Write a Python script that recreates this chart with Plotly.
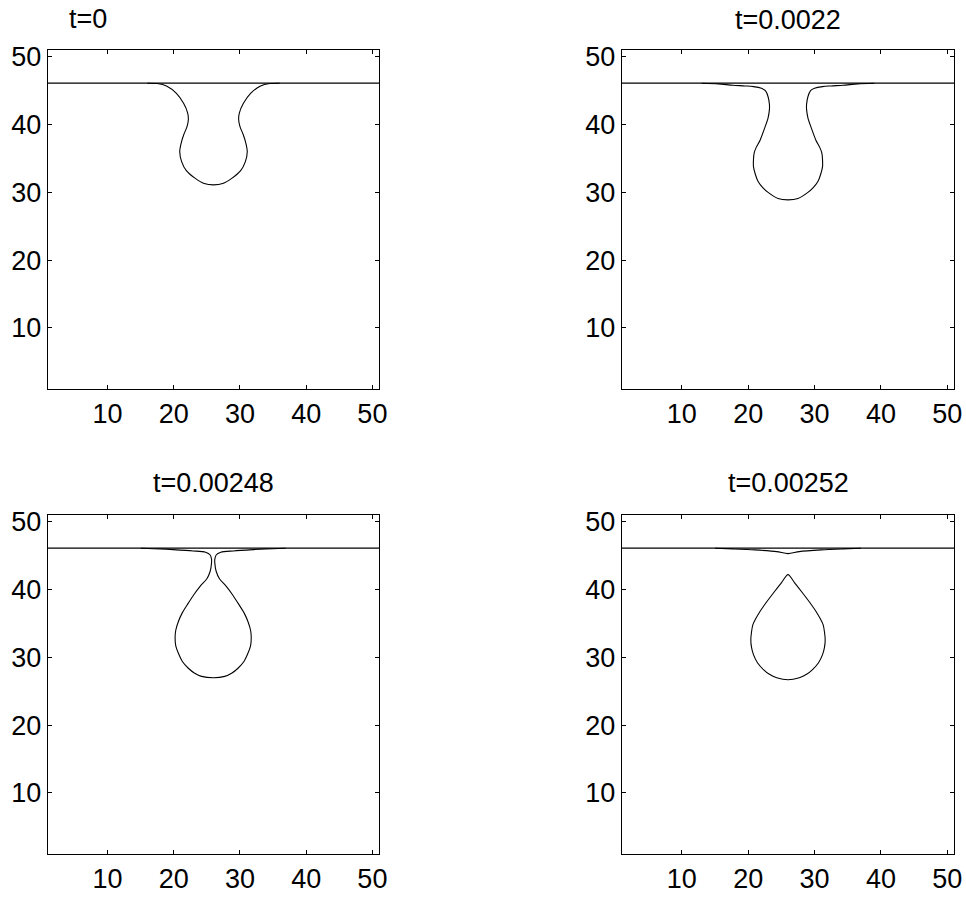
import plotly.graph_objects as go

# ---------------- data ----------------
titles = ["t=0", "t=0.0022", "t=0.00248", "t=0.00252"]
tick_vals = [10, 20, 30, 40, 50]
axis_range = [1, 51]

# flat free surface (level of the undisturbed interface)
surface_x = [1, 51]
surface_y = [46.1, 46.1]

# t=0 contour
c1_x = [16.0, 17.5, 18.9, 20.4, 21.5, 22.1, 22.2, 22.0, 21.5, 21.1, 20.9, 21.2, 21.9, 23.2, 24.6, 26.0,
        27.4, 28.8, 30.1, 30.8, 31.1, 30.9, 30.5, 30.0, 29.8, 29.9, 30.5, 31.6, 33.1, 34.5, 36.0]
c1_y = [46.1, 46.05, 45.7, 44.6, 43.1, 41.7, 40.7, 39.7, 38.5, 37.2, 36.0, 34.5, 33.2, 32.1, 31.3, 31.1,
        31.3, 32.1, 33.2, 34.5, 36.0, 37.2, 38.5, 39.7, 40.7, 41.7, 43.1, 44.6, 45.7, 46.05, 46.1]

# t=0.0022 contour
c2_x = [13.0, 15.5, 17.7, 19.5, 20.8, 22.0, 22.6, 23.0, 23.2, 23.2, 23.0, 22.6, 21.8, 21.2, 20.9, 20.8,
        20.8, 21.1, 21.5, 22.2, 23.0, 24.5, 26.0,
        27.5, 29.0, 29.8, 30.5, 30.9, 31.2, 31.2, 31.1, 30.8, 30.2, 29.4, 29.0, 28.8, 28.8, 29.0, 29.4,
        30.0, 31.2, 32.5, 34.3, 36.5, 39.0]
c2_y = [46.1, 46.0, 45.8, 45.7, 45.6, 45.35, 45.0, 44.1, 43.0, 42.2, 41.0, 39.8, 37.7, 36.6, 35.8, 34.8,
        33.8, 32.6, 31.6, 30.7, 30.0, 29.1, 28.9,
        29.1, 30.0, 30.7, 31.6, 32.6, 33.8, 34.8, 35.8, 36.6, 37.7, 39.8, 41.0, 42.2, 43.0, 44.1, 45.0,
        45.35, 45.6, 45.7, 45.8, 46.0, 46.1]

# t=0.00248 contour
c3_x = [15.0, 18.0, 19.9, 22.9, 24.8, 25.5, 25.7, 25.7, 25.5, 25.0, 24.0, 23.0, 22.2, 21.3, 20.7, 20.3,
        20.2, 20.3, 20.7, 21.3, 22.2, 23.1, 24.2, 26.0,
        27.7, 28.8, 29.7, 30.6, 31.2, 31.6, 31.7, 31.6, 31.2, 30.6, 29.7, 28.9, 27.9, 26.9, 26.4, 26.2,
        26.2, 26.4, 27.1, 29.0, 32.0, 33.9, 36.9]
c3_y = [46.1, 46.0, 45.9, 45.7, 45.5, 45.1, 44.5, 43.9, 42.7, 41.6, 40.5, 39.2, 38.0, 36.6, 35.3, 34.0,
        32.9, 31.7, 30.6, 29.4, 28.4, 27.7, 27.2, 27.0,
        27.2, 27.7, 28.4, 29.4, 30.6, 31.7, 32.9, 34.0, 35.3, 36.6, 38.0, 39.2, 40.5, 41.6, 42.7, 43.9,
        44.5, 45.1, 45.5, 45.7, 45.9, 46.0, 46.1]

# t=0.00252: dimple of the surface and detached drop
c4s_x = [15.0, 17.7, 21.0, 24.3, 26.0, 27.7, 31.0, 34.3, 37.0]
c4s_y = [46.1, 46.0, 45.85, 45.6, 45.3, 45.6, 45.85, 46.0, 46.1]
c4d_x = [26.0, 25.0, 23.8, 22.8, 21.8, 21.2, 20.7, 20.5, 20.4, 20.5, 20.8, 21.4, 22.3, 23.2, 24.3, 26.0,
         27.7, 28.8, 29.7, 30.6, 31.2, 31.5, 31.6, 31.5, 31.3, 30.8, 30.2, 29.2, 28.2, 27.0, 26.0]
c4d_y = [42.2, 41.0, 39.5, 38.2, 36.8, 35.8, 34.8, 33.7, 32.6, 31.5, 30.4, 29.2, 28.2, 27.5, 27.0, 26.7,
         27.0, 27.5, 28.2, 29.2, 30.4, 31.5, 32.6, 33.7, 34.8, 35.8, 36.8, 38.2, 39.5, 41.0, 42.2]

# ---------------- figure ----------------
W, H = 966, 897
FONT = "Liberation Sans, Arial, Helvetica, sans-serif"
FS = 27

# plot-area boxes in pixels (left, right, top, bottom)
boxes = [(48, 379, 50, 389), (622, 954, 50, 389), (48, 379, 515, 854), (622, 954, 515, 854)]
title_pos = [(87.5, 19), (788, 20), (213, 483), (788, 483)]

curves = [
    [(c1_x, c1_y)],
    [(c2_x, c2_y)],
    [(c3_x, c3_y)],
    [(c4s_x, c4s_y), (c4d_x, c4d_y)],
]

fig = go.Figure()
line_style = dict(color="black", width=1.2)

for i in range(4):
    sfx = "" if i == 0 else str(i + 1)
    xa, ya = "x" + sfx, "y" + sfx
    fig.add_trace(go.Scatter(x=surface_x, y=surface_y, mode="lines", line=line_style,
                             xaxis=xa, yaxis=ya, showlegend=False, hoverinfo="skip"))
    for cx, cy in curves[i]:
        fig.add_trace(go.Scatter(x=cx, y=cy, mode="lines",
                                 line=dict(color="black", width=1.1, shape="spline", smoothing=0.8),
                                 xaxis=xa, yaxis=ya, showlegend=False, hoverinfo="skip"))

axis_common = dict(range=axis_range, tickvals=tick_vals, showgrid=False, zeroline=False,
                   showline=True, linecolor="black", linewidth=1.4, mirror="ticks",
                   ticks="inside", ticklen=4, tickcolor="black", tickwidth=1,
                   tickfont=dict(family=FONT, size=FS, color="black"), automargin=False)

layout_axes = {}
for i, (l, r, t, b) in enumerate(boxes):
    sfx = "" if i == 0 else str(i + 1)
    layout_axes["xaxis" + sfx] = dict(axis_common, domain=[l / W, r / W],
                                      anchor="y" + sfx)
    layout_axes["yaxis" + sfx] = dict(axis_common, domain=[1 - b / H, 1 - t / H],
                                      anchor="x" + sfx)

annotations = []
for (tx, ty), txt in zip(title_pos, titles):
    annotations.append(dict(text=txt, x=tx / W, y=1 - ty / H, xref="paper", yref="paper",
                            xanchor="center", yanchor="middle", showarrow=False,
                            font=dict(family=FONT, size=FS, color="black")))

fig.update_layout(width=W, height=H, margin=dict(l=0, r=0, t=0, b=0),
                  paper_bgcolor="white", plot_bgcolor="white",
                  annotations=annotations, **layout_axes)

fig.write_html("out.html", config={"displayModeBar": False},
               post_script="document.body.style.margin='0px';document.body.style.overflow='hidden';")
